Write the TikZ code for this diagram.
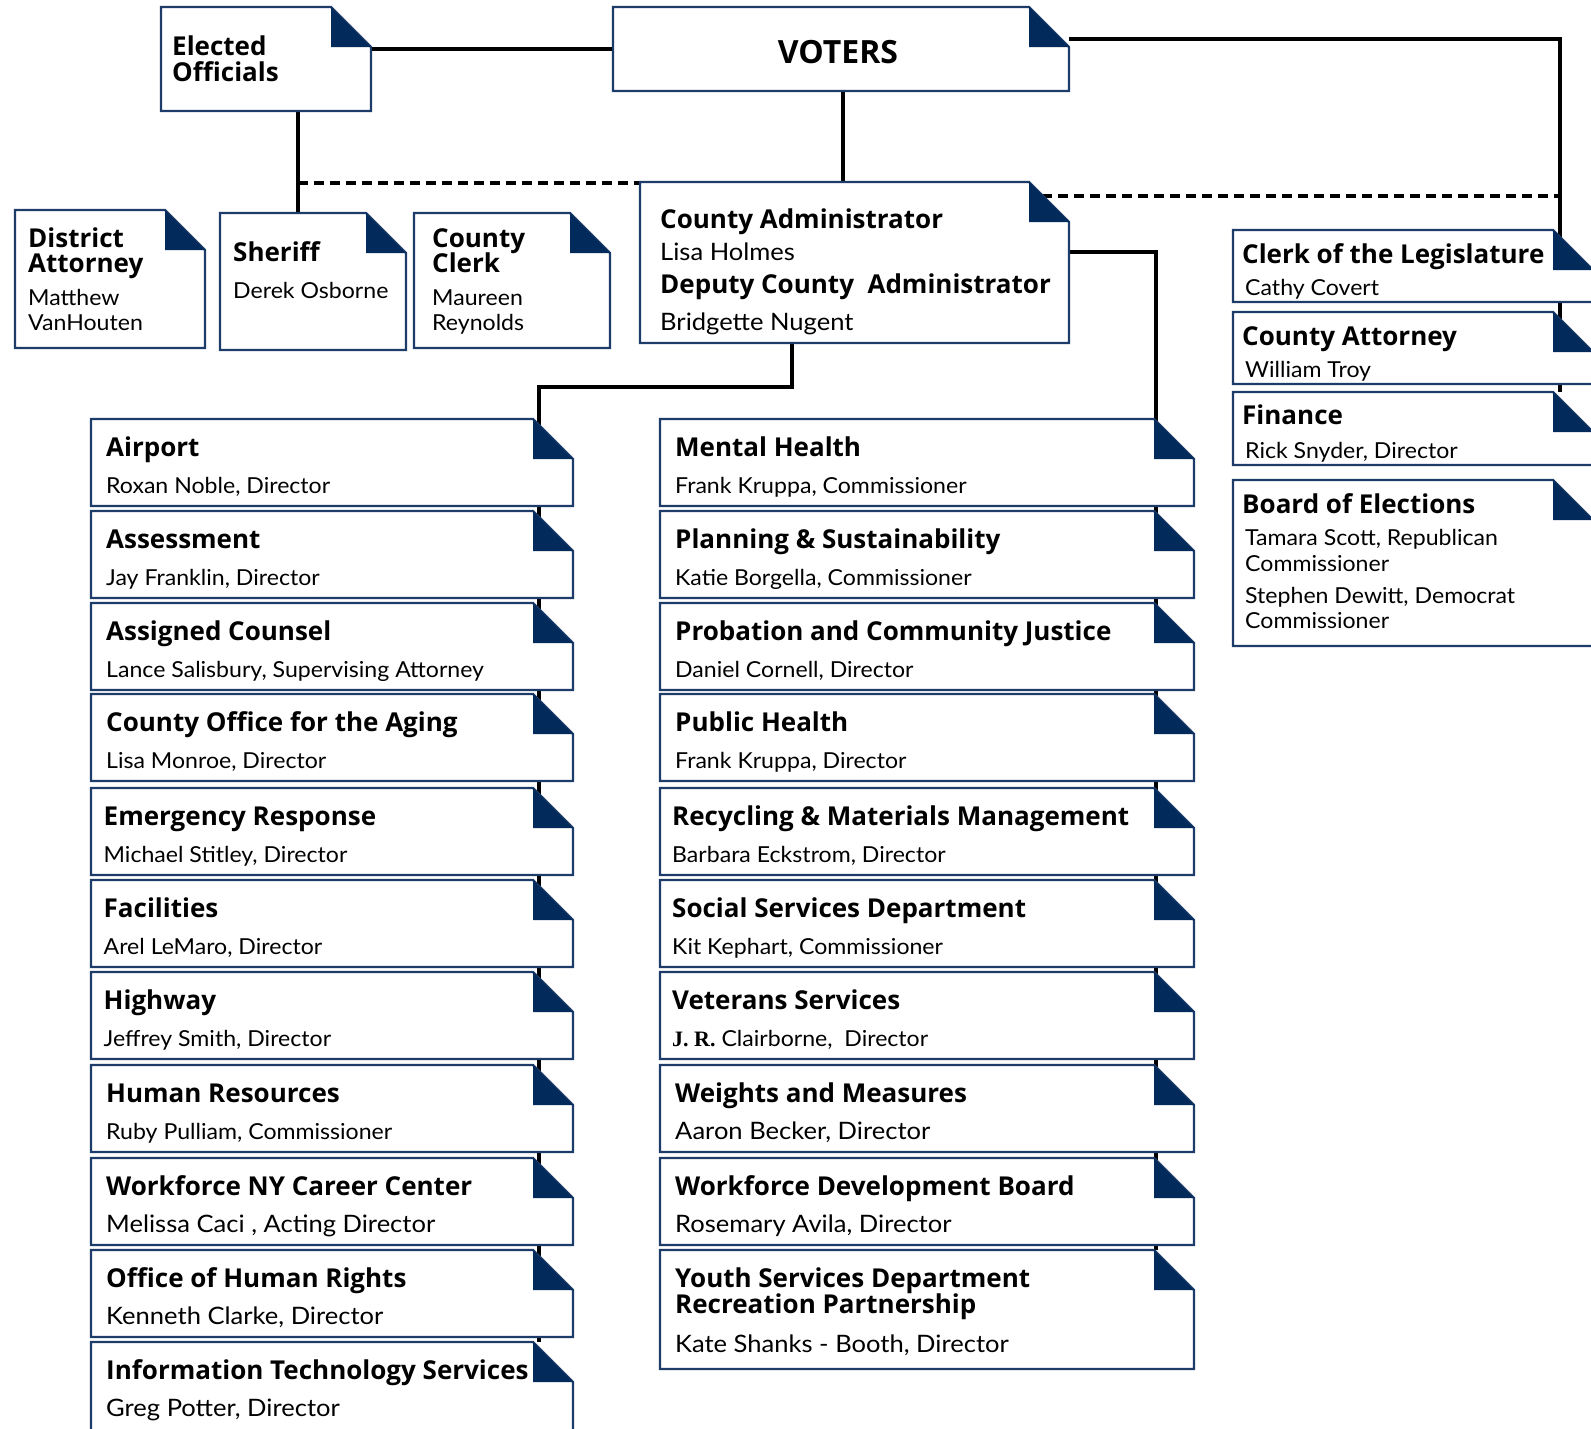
\documentclass[tikz,border=0pt]{standalone}
\usepackage{fontspec}
\setmainfont{Open Sans}
\newfontfamily\namefont[FakeStretch=1.05]{Lato}
\newfontfamily\namefontL[FakeStretch=1.065]{Lato}
\newfontfamily\jrfont{Liberation Serif}
\usetikzlibrary{calc}
\pgfdeclarelayer{bg}
\pgfsetlayers{bg,main}
\definecolor{navy}{RGB}{2,43,92}
\definecolor{edgeblue}{RGB}{30,60,105}
\tikzset{
 boxnode/.style={rectangle, inner sep=0pt, outer sep=0pt, draw=none},
 boxline/.style={draw=edgeblue, line width=2.2pt, fill=white},
 conn/.style={draw=black, line width=3.5pt},
 dashconn/.style={draw=black, line width=3.5pt, dash pattern=on 10pt off 6pt},
 ttl/.style={anchor=base west, inner sep=0pt, font=\fontsize{26}{26}\selectfont\bfseries},
 bigttl/.style={anchor=base, inner sep=0pt, font=\fontsize{32}{32}\selectfont\bfseries},
 nm/.style={anchor=base west, inner sep=0pt, font=\namefont\fontsize{22}{22}\selectfont},
 nmL/.style={anchor=base west, inner sep=0pt, font=\namefontL\fontsize{24}{24}\selectfont},
}
% name, x, y, width, height
\newcommand{\orgbox}[5]{%
 \node[boxnode, minimum width=#4pt, minimum height=#5pt, anchor=north west] (#1) at (#2,#3) {};
 \path[boxline] (#1.north west) -- ([xshift=-40pt]#1.north east) -- ([yshift=-40pt]#1.north east) -- (#1.south east) -- (#1.south west) -- cycle;
 \fill[navy] ([xshift=-40pt]#1.north east) -- ([xshift=-40pt,yshift=-40pt]#1.north east) -- ([yshift=-40pt]#1.north east) -- cycle;
}
% name, x, y, width, title, name style, person, dx
\newcommand{\dept}[8]{%
 \orgbox{#1}{#2}{#3}{#4}{87}
 \node[ttl] (#1-t) at ($(#1.north west)+(#8,37)$) {#5};
 \node[#6] (#1-n) at ($(#1.north west)+(#8,74)$) {#7};
}
\begin{document}
\begin{tikzpicture}[x=1pt,y=-1pt]
\useasboundingbox (0,0) rectangle (1591,1428);
\clip (0,0) rectangle (1591,1428);

% top level
\orgbox{elected}{161}{7}{210}{104}
\node[ttl] (elected-t1) at (172,55) {Elected};
\node[ttl] (elected-t2) at (172,81) {Officials};

\orgbox{voters}{613}{7}{456}{84}
\node[bigttl] (voters-t) at (838,63) {VOTERS};

\orgbox{da}{15}{210}{190}{138}
\node[ttl] (da-t1) at (28,247) {District};
\node[ttl] (da-t2) at (28,272) {Attorney};
\node[nm] (da-n1) at (28,305) {Matthew};
\node[nm] (da-n2) at (28,330) {VanHouten};

\orgbox{sheriff}{220}{213}{186}{137}
\node[ttl] (sheriff-t) at (233,261) {Sheriff};
\node[nm] (sheriff-n) at (233,298) {Derek Osborne};

\orgbox{clerk}{414}{213}{196}{135}
\node[ttl] (clerk-t1) at (432,247) {County};
\node[ttl] (clerk-t2) at (432,272) {Clerk};
\node[nm] (clerk-n1) at (432,305) {Maureen};
\node[nm] (clerk-n2) at (432,330) {Reynolds};

\orgbox{ca}{640}{182}{429}{161}
\node[ttl] (ca-t1) at (660,228) {County Administrator};
\node[nmL] (ca-n1) at (660,260) {Lisa Holmes};
\node[ttl] (ca-t2) at (660,293) {Deputy County\ \ Administrator};
\node[nmL] (ca-n2) at (660,330) {Bridgette Nugent};

% right side column
\orgbox{legis}{1233}{230}{360}{72}
\node[ttl] (legis-t) at (1242,263) {Clerk of the Legislature};
\node[nm] (legis-n) at (1245,295) {Cathy Covert};
\orgbox{cattorney}{1233}{312}{360}{72}
\node[ttl] (cattorney-t) at (1242,345) {County Attorney};
\node[nm] (cattorney-n) at (1245,377) {William Troy};
\orgbox{finance}{1233}{392}{360}{73}
\node[ttl] (finance-t) at (1242,424) {Finance};
\node[nm] (finance-n) at (1245,458) {Rick Snyder, Director};
\orgbox{board}{1233}{480}{360}{166}
\node[ttl] (board-t) at (1242,513) {Board of Elections};
\node[nm] (board-n1) at (1245,545) {Tamara Scott, Republican};
\node[nm] (board-n2) at (1245,571) {Commissioner};
\node[nm] (board-n3) at (1245,603) {Stephen Dewitt, Democrat};
\node[nm] (board-n4) at (1245,628) {Commissioner};

% left column
\dept{airport}{91}{419}{482}{Airport}{nm}{Roxan Noble, Director}{15}
\dept{assess}{91}{511}{482}{Assessment}{nm}{Jay Franklin, Director}{15}
\dept{counsel}{91}{603}{482}{Assigned Counsel}{nm}{Lance Salisbury, Supervising Attorney}{15}
\dept{aging}{91}{694}{482}{County Office for the Aging}{nm}{Lisa Monroe, Director}{15}
\dept{emerg}{91}{788}{482}{Emergency Response}{nm}{Michael Stitley, Director}{12.5}
\dept{facil}{91}{880}{482}{Facilities}{nm}{Arel LeMaro, Director}{12.5}
\dept{highway}{91}{972}{482}{Highway}{nm}{Jeffrey Smith, Director}{12.5}
\dept{hr}{91}{1065}{482}{Human Resources}{nm}{Ruby Pulliam, Commissioner}{15}
\dept{wfny}{91}{1158}{482}{Workforce NY Career Center}{nmL}{Melissa Caci , Acting Director}{15}
\dept{ohr}{91}{1250}{482}{Office of Human Rights}{nmL}{Kenneth Clarke, Director}{15}
\orgbox{its}{91}{1342}{482}{110}
\node[ttl] (its-t) at ($(its.north west)+(15,37)$) {Information Technology Services};
\node[nmL] (its-n) at ($(its.north west)+(15,74)$) {Greg Potter, Director};

% right column
\dept{mental}{660}{419}{534}{Mental Health}{nm}{Frank Kruppa, Commissioner}{15}
\dept{planning}{660}{511}{534}{Planning \& Sustainability}{nm}{Katie Borgella, Commissioner}{15}
\dept{probation}{660}{603}{534}{Probation and Community Justice}{nm}{Daniel Cornell, Director}{15}
\dept{pubhealth}{660}{694}{534}{Public Health}{nm}{Frank Kruppa, Director}{15}
\dept{recycling}{660}{788}{534}{Recycling \& Materials Management}{nm}{Barbara Eckstrom, Director}{12}
\dept{social}{660}{880}{534}{Social Services Department}{nm}{Kit Kephart, Commissioner}{12}
\dept{veterans}{660}{972}{534}{Veterans Services}{nm}{{\jrfont\bfseries J. R.} Clairborne,\ \ Director}{12}
\dept{weights}{660}{1065}{534}{Weights and Measures}{nmL}{Aaron Becker, Director}{15}
\dept{wdb}{660}{1158}{534}{Workforce Development Board}{nmL}{Rosemary Avila, Director}{15}
\orgbox{youth}{660}{1250}{534}{119}
\node[ttl] (youth-t1) at ($(youth.north west)+(15,37)$) {Youth Services Department};
\node[ttl] (youth-t2) at ($(youth.north west)+(15,63)$) {Recreation Partnership};
\node[nmL] (youth-n) at ($(youth.north west)+(15,102)$) {Kate Shanks - Booth, Director};

% connectors
\coordinate (ej) at (298,183);
\coordinate (vj) at (843,100);
\coordinate (rbus) at (1560,392);
\coordinate (rcol) at (1156,1250);
\coordinate (lj) at (792,387);
\coordinate (lcol) at (539,1342);
\begin{pgfonlayer}{bg}
\draw[conn] (voters.west) -- (voters.west -| elected.east);
\draw[conn] ([yshift=-32pt]voters.north east) -| (rbus);
\draw[conn] (voters.south -| vj) -- (ca.north -| vj);
\draw[conn] (elected.south -| ej) -- (sheriff.north -| ej);
\draw[dashconn] (ej) -- (ca.west |- ej);
\draw[dashconn] ([xshift=-27pt,yshift=-14pt]ca.north east) -- (rbus |- 0,196);
\draw[conn] ([yshift=-70pt]ca.north east) -| (rcol);
\draw[conn] (ca.south -| lj) -- (lj) -| (lcol);
\end{pgfonlayer}
\end{tikzpicture}
\end{document}
